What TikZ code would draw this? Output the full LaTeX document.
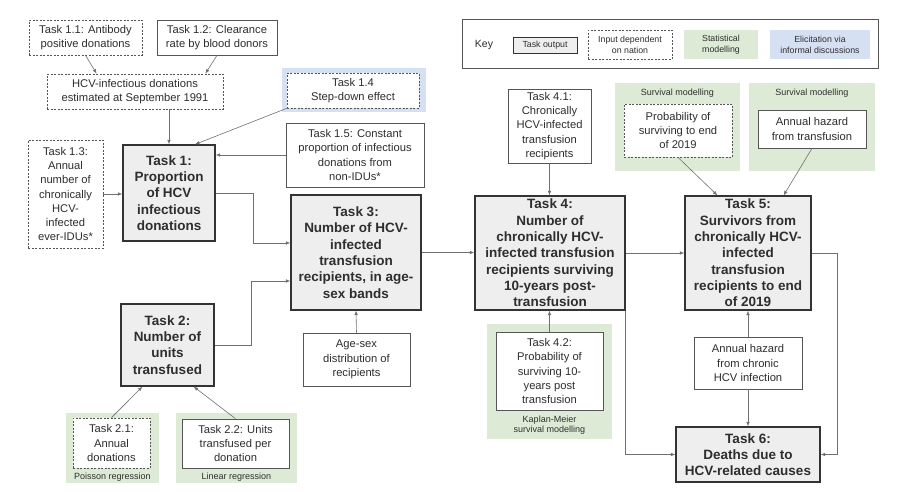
\documentclass[tikz,border=0pt]{standalone}
\usepackage{fontspec}
\setmainfont{Liberation Sans}
\usetikzlibrary{arrows.meta,calc}
\definecolor{taskfill}{HTML}{EEEEEE}
\definecolor{greenbg}{HTML}{DDEBD6}
\definecolor{bluebg}{HTML}{D6E0F3}
\definecolor{boxline}{HTML}{555555}
\definecolor{arrowc}{HTML}{707070}
\definecolor{txt}{HTML}{2E2E2E}
\tikzset{
  x=1pt,y=-1pt,
  sz/.style 2 args={minimum width=#1pt,minimum height=#2pt},
  base/.style={inner sep=0pt,align=center,text=txt,font=\fontsize{11.2}{14.2}\selectfont},
  plainbox/.style={base,draw=boxline,line width=0.7pt,fill=white},
  dashbox/.style={plainbox,dash pattern=on 2pt off 1.5pt},
  taskbox/.style={base,draw=black!80,line width=1.2pt,fill=taskfill,font=\fontsize{13.5}{16.3}\selectfont\bfseries},
  greenpanel/.style={fill=greenbg,draw=none,inner sep=0pt},
  bluepanel/.style={fill=bluebg,draw=none,inner sep=0pt},
  smalllabel/.style={inner sep=0pt,align=center,text=txt,font=\fontsize{9}{10.5}\selectfont},
  keytext/.style={base,font=\fontsize{8.8}{11}\selectfont},
  conn/.style={draw=arrowc,line width=0.6pt,-{Latex[length=4.5pt,width=3.5pt]}},
}
\begin{document}
\begin{tikzpicture}
\useasboundingbox[fill=white] (0,0) rectangle (903,491);

% Key
\node[draw=boxline,line width=1pt,sz={416}{49}] (key) at (670,43.5) {};
\node[base,font=\fontsize{10.5}{12}\selectfont] (keylbl) at (484,45) {Key};
\node[keytext,draw=black!80,line width=1pt,fill=taskfill,sz={64}{16}] (keytask) at (545,45) {Task output};
\node[keytext,draw=boxline,line width=0.7pt,dash pattern=on 2pt off 1.5pt,sz={84}{29}] (keyinput) at (630,44.5) {Input dependent\\on nation};
\node[keytext,greenpanel,sz={74}{29}] (keystat) at (721,44.5) {Statistical\\modelling};
\node[keytext,bluepanel,sz={100}{29}] (keyelic) at (820,44.5) {Elicitation via\\informal discussions};

% Task 1 inputs
\node[dashbox,sz={113}{35}] (t11) at (85.5,37.5) {Task 1.1: Antibody\\positive donations};
\node[plainbox,sz={120}{35}] (t12) at (217,37.5) {Task 1.2: Clearance\\rate by blood donors};
\node[dashbox,sz={176}{35}] (hcvd) at (135,91.5) {HCV-infectious donations\\estimated at September 1991};
\node[bluepanel,sz={144}{44}] (t14bg) at (354,90) {};
\node[dashbox,sz={132}{35}] (t14) at (353,90.5) {Task 1.4\\Step-down effect};
\node[plainbox,sz={138}{64}] (t15) at (355,155) {Task 1.5: Constant\\proportion of infectious\\donations from\\non-IDUs*};
\node[dashbox,sz={75}{108}] (t13) at (65.5,194) {Task 1.3:\\Annual\\number of\\chronically\\HCV-\\infected\\ever-IDUs*};

% Task nodes
\node[taskbox,sz={92}{96}] (t1) at (169,193) {Task 1:\\Proportion\\of HCV\\infectious\\donations};
\node[taskbox,sz={93}{82}] (t2) at (167.5,345) {Task 2:\\Number of\\units\\transfused};
\node[taskbox,sz={130}{115}] (t3) at (356,252.5) {Task 3:\\Number of HCV-\\infected\\transfusion\\recipients, in age-\\sex bands};
\node[taskbox,sz={150}{114}] (t4) at (550,253) {Task 4:\\Number of\\chronically HCV-\\infected transfusion\\recipients surviving\\10-years post-\\transfusion};
\node[taskbox,sz={126}{114}] (t5) at (748,253) {Task 5:\\Survivors from\\chronically HCV-\\infected\\transfusion\\recipients to end\\of 2019};
\node[taskbox,sz={144}{55}] (t6) at (748,454.5) {Task 6:\\Deaths due to\\HCV-related causes};

% other inputs
\node[plainbox,sz={107}{53}] (agesex) at (356.5,359.5) {Age-sex\\distribution of\\recipients};
\node[plainbox,sz={83}{74}] (t41) at (549.5,126) {Task 4.1:\\Chronically\\HCV-infected\\transfusion\\recipients};

\node[greenpanel,sz={125}{115}] (t42bg) at (549.5,381.5) {};
\node[plainbox,sz={107}{78}] (t42) at (549.5,371) {Task 4.2:\\Probability of\\surviving 10-\\years post\\transfusion};
\node[smalllabel] (t42lbl) at (549.5,425) {Kaplan-Meier\\survival modelling};

\node[greenpanel,sz={125}{88}] (s1bg) at (677.5,127) {};
\node[smalllabel] (s1lbl) at (677.5,93.5) {Survival modelling};
\node[dashbox,sz={108}{53}] (s1) at (678,130.5) {Probability of\\surviving to end\\of 2019};

\node[greenpanel,sz={126}{88}] (s2bg) at (812,127) {};
\node[smalllabel] (s2lbl) at (812,93.5) {Survival modelling};
\node[plainbox,sz={108}{38}] (s2) at (812,129) {Annual hazard\\from transfusion};

\node[plainbox,sz={108}{52}] (haz) at (748,363) {Annual hazard\\from chronic\\HCV infection};

\node[greenpanel,sz={93}{70}] (t21bg) at (112.5,448) {};
\node[dashbox,sz={77}{50}] (t21) at (111.5,443) {Task 2.1:\\Annual\\donations};
\node[smalllabel] (t21lbl) at (112.5,477.5) {Poisson regression};

\node[greenpanel,sz={121}{70}] (t22bg) at (236.5,448) {};
\node[plainbox,sz={107}{49}] (t22) at (235.5,443.5) {Task 2.2: Units\\transfused per\\donation};
\node[smalllabel] (t22lbl) at (236.5,477.5) {Linear regression};

% connectors
\draw[conn] (t11.south) -- ($(hcvd.north west)+(50,0)$);
\draw[conn] (t12.south) -- ($(hcvd.north east)+(-18,0)$);
\draw[conn] (hcvd.south -| t1.north) -- (t1.north);
\draw[conn] (t14.south west) -- ($(t1.north)+(26,0)$);
\draw[conn] (t15.west) -- (t15.west -| t1.east);
\draw[conn] (t13.east) -- (t13.east -| t1.west);
\draw[conn] (t1.east) -- ++(38,0) |- ($(t3.west)+(0,-9.5)$);
\draw[conn] (t2.east) -- ++(36.5,0) |- ($(t3.west)+(0,28.5)$);
\draw[conn] (agesex.north) -- (t3.south);
\draw[conn] (t3.east) -- (t3.east -| t4.west);
\draw[conn] (t41.south) -- (t41.south |- t4.north);
\draw[conn] (t42.north) -- (t42.north |- t4.south);
\draw[conn] (t4.east) -- (t4.east -| t5.west);
\draw[conn] (t4.south east) |- (t6.west);
\draw[conn] (s1.south) -- ($(t5.north west)+(33,0)$);
\draw[conn] (s2.south) -- ($(t5.north east)+(-28,0)$);
\draw[conn] (t5.east) -- ++(26,0) |- (t6.east);
\draw[conn] (haz.north) -- (t5.south);
\draw[conn] (haz.south) -- (t6.north);
\draw[conn] (t21.north) -- ($(t2.south west)+(22,0)$);
\draw[conn] (t22.north) -- ($(t2.south east)+(-21,0)$);
\end{tikzpicture}
\end{document}
